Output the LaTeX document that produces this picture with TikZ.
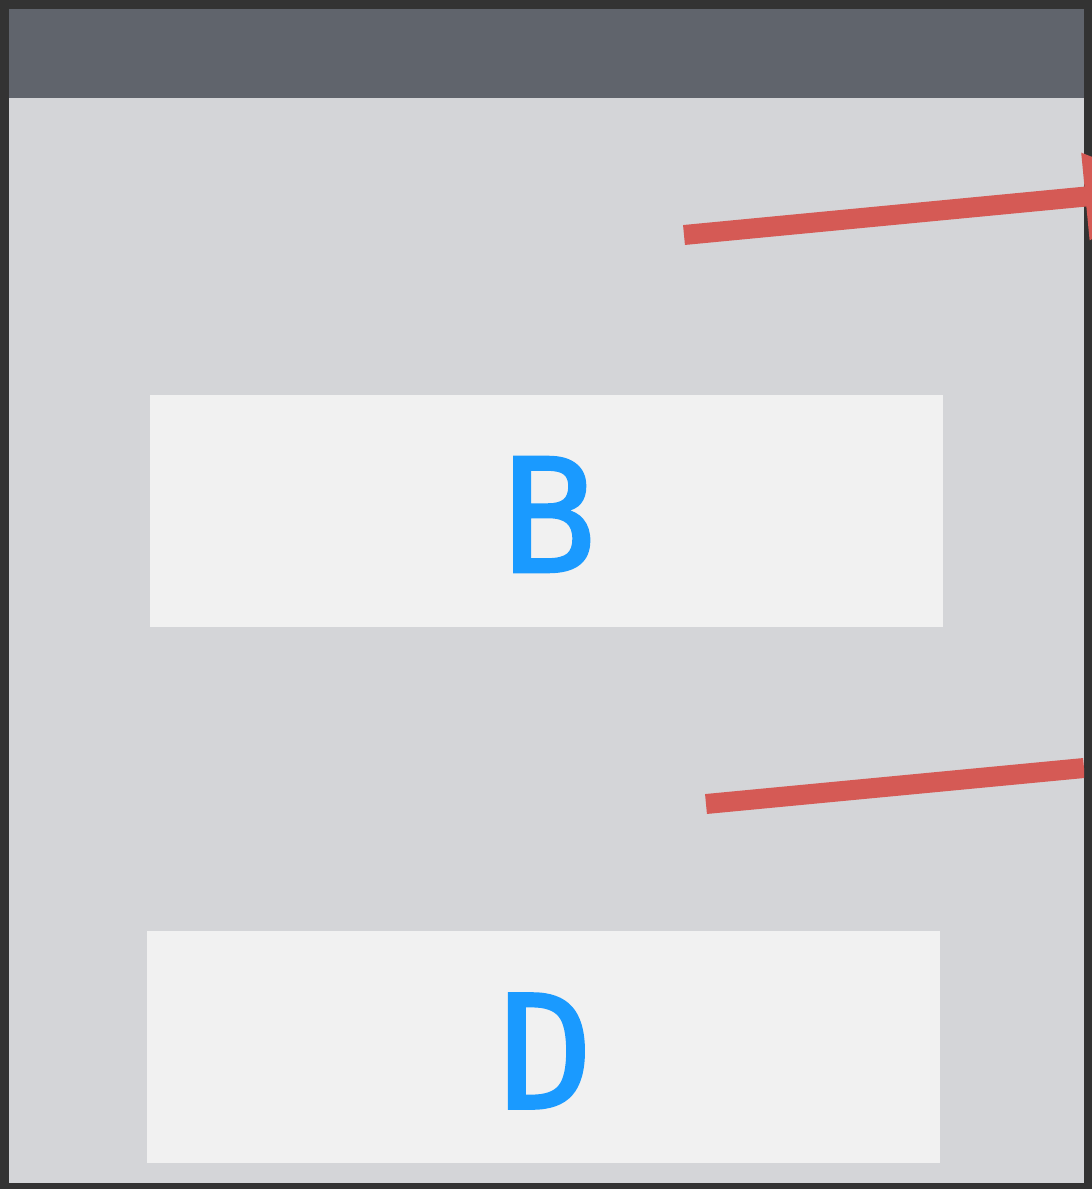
\documentclass[tikz,border=0pt]{standalone}
\usepackage{fontspec}
\newfontfamily\letterfont[FakeBold=1.5]{DejaVu Sans Mono}
\usetikzlibrary{arrows.meta}
\definecolor{frameC}{HTML}{333333}
\definecolor{panelC}{HTML}{D4D5D8}
\definecolor{headC}{HTML}{60646C}
\definecolor{boxC}{HTML}{F1F1F1}
\definecolor{redC}{HTML}{D55A55}
\definecolor{blueC}{HTML}{1A9AFF}
\tikzset{
  cardbox/.style={fill=boxC, draw=none},
  letter/.style={text=blueC, font=\letterfont\fontsize{158}{158}\selectfont, inner sep=0pt},
  redline/.style={draw=redC, line width=20pt, line cap=butt},
}
\begin{document}
\begin{tikzpicture}[x=1pt,y=-1pt]
\useasboundingbox (0,0) rectangle (1092,1189);
\clip (0,0) rectangle (1092,1189);
\fill[frameC] (0,0) rectangle (1092,1189);
\fill[panelC] (9,9) rectangle (1084,1183);
\fill[headC] (9,9) rectangle (1084,98);
% boxes
\path[cardbox] (150,395) rectangle (943,627);
\path[cardbox] (147,931) rectangle (940,1163);
\node[letter] (B) at (549,514.5) {B};
\node[letter] (D) at (546,1051) {D};
% connectors
\coordinate (a1) at (684,235);
\coordinate (a2) at (1175,188);
\coordinate (c1) at (706,804);
\coordinate (c2) at (1084,768);
\begin{scope}
\clip (9,9) rectangle (1084,1183);
\draw[redline] (c1) -- (c2);
\end{scope}
\draw[redline, -{Triangle[length=90pt, width=82pt]}] (a1) -- (a2);
\end{tikzpicture}
\end{document}
